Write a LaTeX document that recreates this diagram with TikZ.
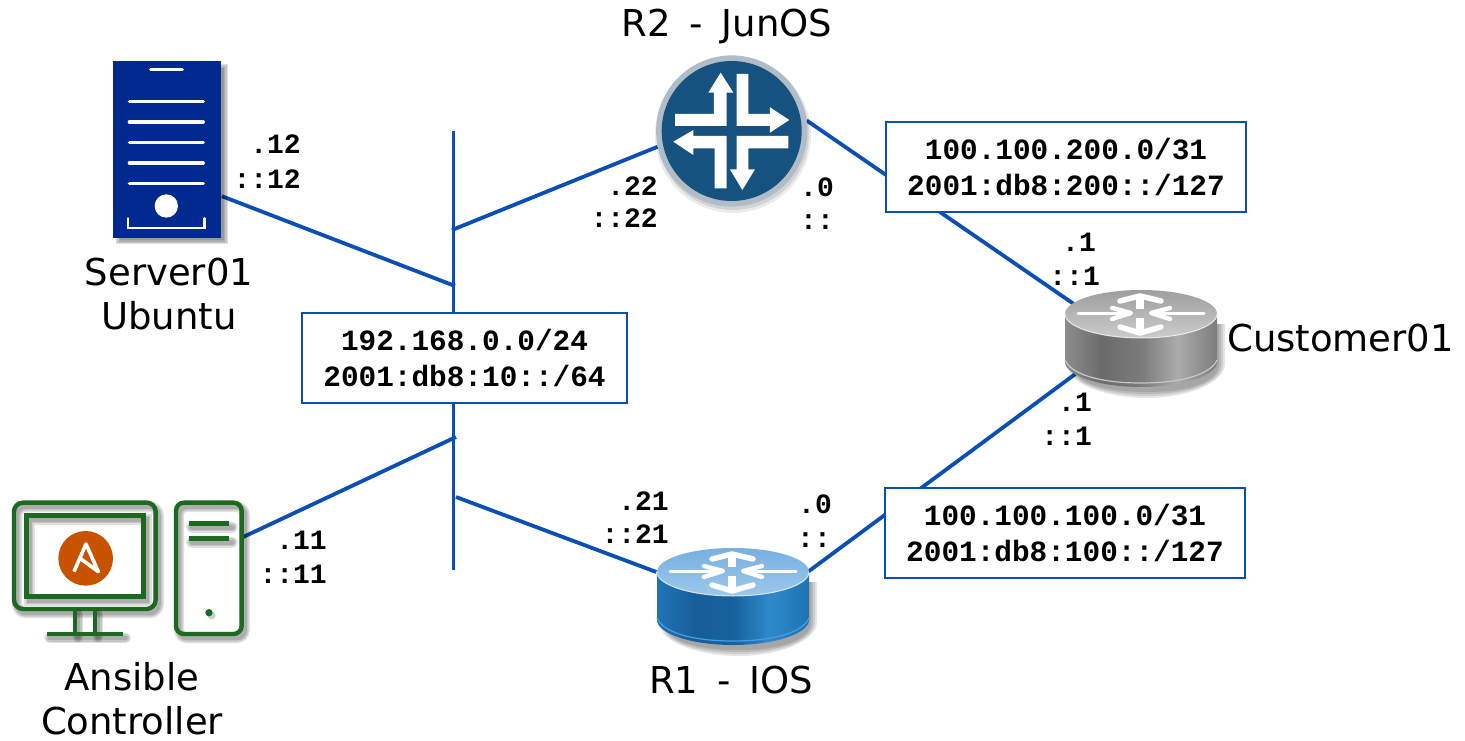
\documentclass[tikz,border=0pt]{standalone}
\usepackage{fontspec}
\setmainfont[WordSpace=1.6]{DejaVu Sans}
\setmonofont{Liberation Mono}
\pgfdeclarehorizontalshading{bluebody}{100bp}{rgb(0bp)=(.12,.46,.71);rgb(25bp)=(.12,.46,.71);rgb(37bp)=(.09,.37,.60);rgb(50bp)=(.09,.38,.61);rgb(62bp)=(.18,.54,.80);rgb(75bp)=(.12,.45,.69);rgb(100bp)=(.08,.38,.62)}
\pgfdeclarehorizontalshading{graybody}{100bp}{rgb(0bp)=(.55,.55,.55);rgb(25bp)=(.55,.55,.55);rgb(37bp)=(.42,.42,.42);rgb(50bp)=(.48,.48,.48);rgb(62bp)=(.67,.67,.67);rgb(75bp)=(.49,.49,.49);rgb(100bp)=(.40,.40,.40)}
\definecolor{linkblue}{HTML}{0A4FB5}
\definecolor{srvblue}{HTML}{002A8F}
\definecolor{icongreen}{HTML}{1B6A1F}
\definecolor{ansorange}{HTML}{C75300}
\definecolor{junblue}{HTML}{15527F}
\definecolor{junring}{HTML}{B0BCC8}
\definecolor{bluetopa}{HTML}{78B0E0}
\definecolor{bluetopb}{HTML}{9CC8EC}
\definecolor{bluelip}{HTML}{4A9EE0}
\tikzset{
  link/.style={draw=linkblue,line width=3.8pt},
  netbox/.style={draw=linkblue,line width=1.5pt,fill=white,align=center,inner sep=0pt,
    font=\fontsize{29.4}{36}\selectfont\ttfamily\bfseries},
  iplabel/.style={inner sep=0pt,anchor=east,font=\fontsize{28}{34}\selectfont\ttfamily\bfseries},
  devlabel/.style={inner sep=0pt,align=center,font=\fontsize{37}{44}\selectfont},
  hotspot/.style={inner sep=0pt,draw=none},
  softshade/.style={fill=black,fill opacity=.10,draw=none},
}
% router icon: body shading, top colours, lip colour, centre of top disc
\newcommand{\routericon}[6]{%
\begin{scope}[shift={(#5,#6)}]
  \foreach \w in {0,2,4,6}{%
    \path[softshade] (-72+\w,10) -- (-72+\w,55) .. controls (-72+\w,68) and (-38,84-\w) .. (6,84-\w) .. controls (48,84-\w) and (84-\w,68) .. (84-\w,50) -- (84-\w,10) -- cycle;}
  \path[shading=#1] (-76,0) -- (-76,48) .. controls (-76,61.5) and (-42,73) .. (0,73) .. controls (42,73) and (76,61.5) .. (76,48) -- (76,0) -- cycle;
  \draw[#4,line width=1.2pt] (-76,46) .. controls (-70,60) and (-42,69) .. (0,69) .. controls (42,69) and (70,60) .. (76,46);
  \path[top color=#2,bottom color=#3] (0,0) ellipse [x radius=76,y radius=24];
  \draw[white,opacity=.7,line width=1pt] (-76,0) .. controls (-76,13) and (-42,24) .. (0,24) .. controls (42,24) and (76,13) .. (76,0);
  \begin{scope}[white,line width=3pt,line cap=round,line join=round]
    \draw (-63,-1) -- (-12,-1);
    \draw[line width=4.4pt] (-29,-6) -- (-10,-1) -- (-29,5);
    \draw (63,-1) -- (12,-1);
    \draw[line width=4.4pt] (29,-6) -- (10,-1) -- (29,5);
    \draw[line width=8pt,line cap=butt] (-1,-17) -- (-1,-5);
    \draw[line width=5.5pt] (-21,-13) -- (-1,-18) -- (20,-13);
    \draw[line width=8pt,line cap=butt] (-1,4) -- (-1,16);
    \draw[line width=5.5pt] (-21,13) -- (-1,19) -- (20,13);
  \end{scope}
\end{scope}}
% outline path drawn in green with a soft grey copy behind it
\newcommand{\shadowedstroke}[2]{%
  \foreach \w in {6,3,0}{%
    \draw[black,opacity=.12,line width={#1+\w*1pt},line cap=round,shift={(9,12)}] #2;}%
  \draw[icongreen,line width=#1] #2;}
\begin{document}
\begin{tikzpicture}[x=1pt,y=-1pt]
\useasboundingbox (0,0) rectangle (1465,741);
% device hot spots
\node[hotspot,minimum width=110pt,minimum height=177pt] (server) at (166.7,149.2) {};
\node[hotspot,minimum width=70pt,minimum height=132pt] (tower) at (208,569) {};
\node[hotspot,circle,minimum size=151pt] (r2) at (731.7,131) {};
\node[hotspot,minimum width=151pt,minimum height=97pt] (r1) at (732,596) {};
\node[hotspot,minimum width=153pt,minimum height=98pt] (cust) at (1141,339) {};
% bus
\coordinate (bustop) at (453.5,131);
\coordinate (busbottom) at (453.5,570);
\coordinate (tapsrv) at (455,286);
\coordinate (tapr2) at (452,230);
\coordinate (tapans) at (456,437);
\coordinate (tapr1) at (456,497);
\draw[link] (bustop) -- (busbottom);
\draw[link] ([yshift=-47pt]server.east) -- (tapsrv);
\draw[link] (tapr2) -- (r2.192);
\draw[link] (r2.8) -- ([shift={(11pt,34pt)}]cust.west);
\draw[link] ([shift={(11pt,-35pt)}]cust.west) -- ([yshift=24pt]r1.east);
\draw[link] ([yshift=24pt]r1.west) -- (tapr1);
\draw[link] ([yshift=32pt]tower.east) -- (tapans);
% server
\begin{scope}[shift={(90,50)},x=.3333pt,y=-.3333pt]
  \foreach \w in {0,4,8,12}{\path[softshade,fill opacity=.12] (78+\w,42+\w) rectangle (414-\w,583-\w);}
  \fill[srvblue] (68,32) rectangle (392,563);
  \begin{scope}[white,line width=3.2pt,line cap=round]
    \draw (182,59) -- (277,59);
    \draw (118,154) -- (340,154);
    \draw (118,216) -- (340,216);
    \draw (118,277) -- (340,277);
    \draw (118,339) -- (340,339);
    \draw (118,401) -- (340,401);
    \draw[line width=2.4pt] (114,505) -- (114,534) -- (344,534) -- (344,505);
    \fill (229,468) circle (35);
  \end{scope}
\end{scope}
% ansible controller
\begin{scope}[shift={(0,490)},x=.3333pt,y=-.3333pt]
  \shadowedstroke{4.4pt}{[rounded corners=9pt] (42,38) rectangle (467,357)}
  \shadowedstroke{4.4pt}{(80,77) rectangle (430,320)}
  \shadowedstroke{4.4pt}{(225,360) -- (225,430) (285,360) -- (285,430)}
  \shadowedstroke{4.8pt}{(140,432) -- (368,432)}
  \shadowedstroke{4.4pt}{[rounded corners=8pt] (528,38) rectangle (725,432)}
  \shadowedstroke{4.8pt}{(566,100) -- (688,100)}
  \shadowedstroke{4.8pt}{(566,145) -- (688,145)}
  \fill[black,opacity=.2] (635,376) circle (12);
  \fill[icongreen] (627,368) circle (11);
  \fill[ansorange] (257,205) circle (82);
  \draw[white,line width=3.6pt,line join=round,line cap=butt] (222,245) -- (258,162) -- (295,245) -- (243,207);
\end{scope}
% R2 JunOS
\fill[black,opacity=.08] (733,135) circle (78);
\fill[black,opacity=.10] (733,134) circle (76);
\fill[junring] (r2.center) circle (75.6);
\fill[junblue] (r2.center) circle (70);
\begin{scope}[shift={(640,70)},x=.3333pt,y=-.3333pt]
  \fill[white] (105,132) -- (222,132) -- (222,68) -- (205,68) -- (242,8) -- (280,68) -- (260,68) -- (260,168) -- (105,168) -- cycle;
  \fill[white] (290,12) -- (325,12) -- (325,132) -- (390,132) -- (390,112) -- (448,150) -- (390,188) -- (390,168) -- (290,168) -- cycle;
  \fill[white] (100,215) -- (160,180) -- (160,198) -- (260,198) -- (260,355) -- (224,355) -- (224,235) -- (160,235) -- (160,255) -- cycle;
  \fill[white] (445,198) -- (445,235) -- (325,235) -- (325,298) -- (345,298) -- (307,360) -- (270,298) -- (290,298) -- (290,198) -- cycle;
\end{scope}
% routers
\routericon{bluebody}{bluetopa}{bluetopb}{bluelip}{733}{572}
\routericon{graybody}{black!38}{black!20}{black!22}{1141}{314}
% subnet boxes
\node[netbox,minimum width=325pt,minimum height=90pt] (lan) at (464.5,358) {192.168.0.0/24\\2001:db8:10::/64};
\node[netbox,minimum width=360pt,minimum height=90pt] (net200) at (1066,167) {100.100.200.0/31\\2001:db8:200::/127};
\node[netbox,minimum width=360pt,minimum height=90pt] (net100) at (1065,533) {100.100.100.0/31\\2001:db8:100::/127};
% device names
\node[devlabel] (lserver) at (169,294) {Server01\\Ubuntu};
\node[devlabel] (lansible) at (132,699) {Ansible\\Controller};
\node[devlabel] (lr2) at (727,26) {R2 - JunOS};
\node[devlabel] (lr1) at (731,680) {R1 - IOS};
\node[devlabel,anchor=west] (lcust) at (1227,338) {Customer01};
% addresses
\node[iplabel] (a1) at (301,144) {.12};
\node[iplabel] (a2) at (301,179) {::12};
\node[iplabel] (a3) at (658,186) {.22};
\node[iplabel] (a4) at (658,218) {::22};
\node[iplabel] (a5) at (834,187) {.0};
\node[iplabel] (a6) at (834,222) {::};
\node[iplabel] (a7) at (1096,242) {.1};
\node[iplabel] (a8) at (1100,276) {::1};
\node[iplabel] (a9) at (1092,402) {.1};
\node[iplabel] (a10) at (1092,436) {::1};
\node[iplabel] (a11) at (669,501) {.21};
\node[iplabel] (a12) at (669,534) {::21};
\node[iplabel] (a13) at (832,504) {.0};
\node[iplabel] (a14) at (831,540) {::};
\node[iplabel] (a15) at (327,540) {.11};
\node[iplabel] (a16) at (327,574) {::11};
\end{tikzpicture}
\end{document}
